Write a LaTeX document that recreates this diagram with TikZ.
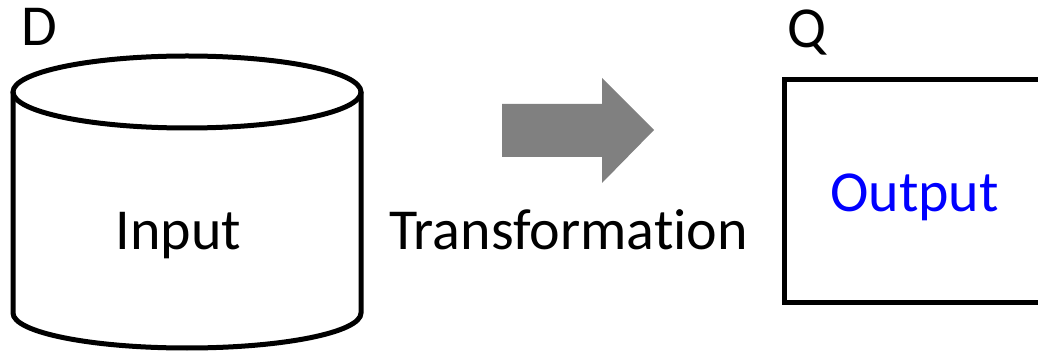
\documentclass[tikz,border=0pt]{standalone}
\usepackage{fontspec}
\setmainfont{Carlito}[Ligatures={NoCommon}]
\begin{document}
\begin{tikzpicture}[x=1pt,y=-1pt,
  outline/.style={line width=5pt,draw=black},
  lbl/.style={inner sep=0pt,anchor=base,font=\fontsize{58}{60}\selectfont}]
\useasboundingbox (0,0) rectangle (1038,352);
\clip (0,0) rectangle (1038,352);
% cylinder
\draw[outline,fill=white] (13,92) -- (13,313) arc[start angle=180,end angle=0,x radius=174,y radius=35] -- (361,92);
\draw[outline] (187,92) ellipse[x radius=174,y radius=36];
% arrow
\fill[gray] (502,104) -- (602,104) -- (602,78) -- (654,130) -- (602,183) -- (602,157) -- (502,157) -- cycle;
% box
\draw[outline,line join=miter] (784,80) rectangle (1050,303);
% labels
\node[lbl] (D) at (39,46) {D};
\node[lbl] (Q) at (807.5,48) {Q};
\node[lbl] (input) at (178.5,250) {Input};
\node[lbl] (trans) at (568.5,250) {Transformation};
\node[lbl,text={rgb,255:red,0;green,0;blue,255}] (output) at (914.5,212) {Output};
\end{tikzpicture}
\end{document}
